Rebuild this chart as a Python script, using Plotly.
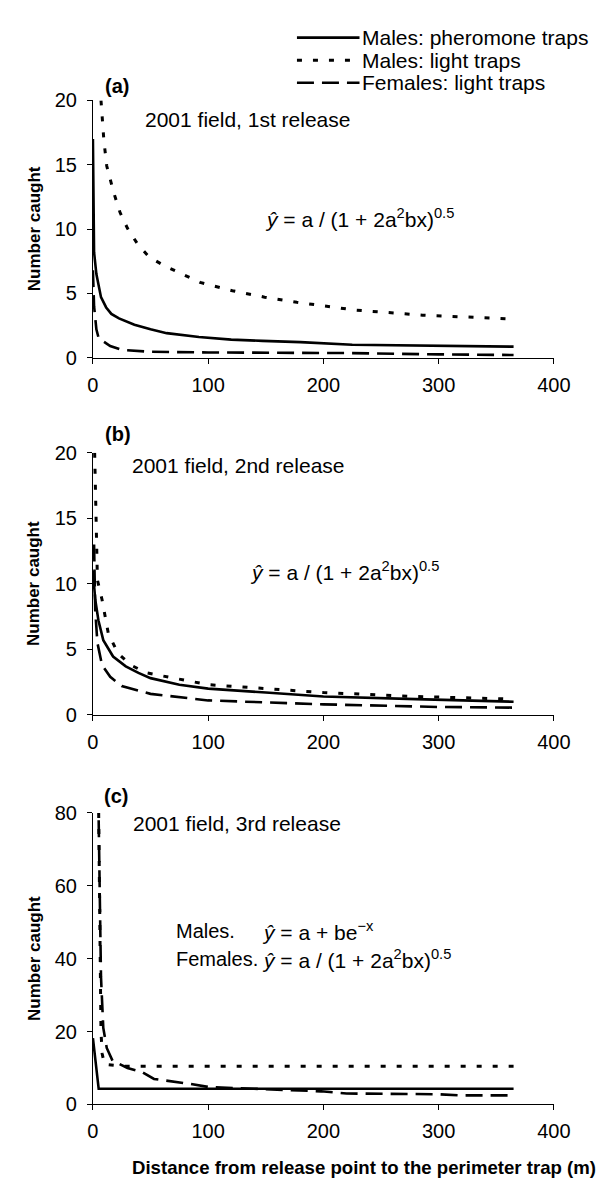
import plotly.graph_objects as go

W, H = 612, 1184

# ---------------- data ----------------
# Panel (a) 2001 field, 1st release
pher_a_x = [0, 0.3, 1, 3, 7, 11.5, 16, 22.6, 36, 50, 64, 92, 120, 147, 180, 225, 300, 365]
pher_a_y = [17.0, 15.0, 8.2, 6.5, 4.7, 3.9, 3.4, 3.05, 2.55, 2.2, 1.9, 1.6, 1.4, 1.3, 1.2, 1.0, 0.9, 0.85]
light_a_x = [7, 9.5, 12, 18, 23.5, 30, 39, 49, 63, 79, 93, 121, 149, 177, 205, 227, 286, 365]
light_a_y = [20, 16.9, 14.9, 12.85, 11.3, 10.05, 8.8, 7.8, 7.1, 6.4, 5.85, 5.2, 4.7, 4.3, 3.95, 3.7, 3.3, 3.0]
fem_a_x = [0, 1, 3, 5, 10, 15, 25, 50, 100, 225, 300, 365]
fem_a_y = [6.8, 4.0, 2.2, 1.5, 1.2, 0.9, 0.6, 0.45, 0.4, 0.35, 0.25, 0.2]

# Panel (b) 2001 field, 2nd release
pher_b_x = [0, 2, 4.8, 9, 17.5, 28.5, 39.5, 50, 75, 100, 150, 200, 280, 365]
pher_b_y = [11, 8.8, 7.2, 5.7, 4.45, 3.7, 3.2, 2.8, 2.3, 2.0, 1.7, 1.4, 1.2, 1.0]
light_b_x = [1.5, 2.5, 3.9, 7.9, 13.4, 21.7, 32.8, 46.6, 75, 100, 150, 200, 280, 365]
light_b_y = [20, 15, 10.3, 8.8, 6.2, 4.7, 3.8, 3.2, 2.7, 2.3, 2.0, 1.7, 1.4, 1.2]
fem_b_x = [1, 2, 3.9, 7.9, 15, 25, 50, 100, 200, 300, 365]
fem_b_y = [13, 8, 5.5, 3.8, 2.9, 2.2, 1.6, 1.1, 0.8, 0.6, 0.55]

# Panel (c) 2001 field, 3rd release
pher_c_x = [0, 5, 10, 50, 100, 200, 300, 365]
pher_c_y = [18.2, 4.3, 4.3, 4.3, 4.3, 4.3, 4.3, 4.3]
light_c_x = [5, 6, 7, 8, 10, 25, 50, 100, 200, 300, 365]
light_c_y = [80, 38, 20, 14, 11, 10.5, 10.5, 10.5, 10.5, 10.5, 10.5]
fem_c_x = [5, 7, 9, 12, 17, 30, 43, 53, 85, 101, 140, 182, 198, 220, 300, 317, 365]
fem_c_y = [78, 35, 21, 15.5, 12, 10, 8.8, 7, 5.6, 4.75, 4.3, 3.9, 3.6, 3.0, 2.8, 2.5, 2.5]

series_names = ["Males: pheromone traps", "Males: light traps", "Females: light traps"]
panel_labels = ["(a)", "(b)", "(c)"]
panel_titles = ["2001 field, 1st release", "2001 field, 2nd release", "2001 field, 3rd release"]
y_ranges = [[0, 20], [0, 20], [0, 80]]
y_dticks = [5, 5, 20]
x_ticks = [0, 100, 200, 300, 400]

# ---------------- layout helpers ----------------
def px(x):
    return x / W

def py(y):
    return 1 - y / H

FONT = "Liberation Sans, Arial, Helvetica, sans-serif"
styles = [
    dict(color="black", width=2.6, dash="solid"),
    dict(color="black", width=3.0, dash="5px,11px"),
    dict(color="black", width=2.6, dash="17px,8px"),
]

panels = [
    (pher_a_x, pher_a_y, light_a_x, light_a_y, fem_a_x, fem_a_y),
    (pher_b_x, pher_b_y, light_b_x, light_b_y, fem_b_x, fem_b_y),
    (pher_c_x, pher_c_y, light_c_x, light_c_y, fem_c_x, fem_c_y),
]
# pixel extents of each plot area (top, bottom)
panel_px = [(83, 345), (442, 709), (809, 1106)]
x_left, x_right = 82, 561

fig = go.Figure()
for i, (p_x, p_y, l_x, l_y, f_x, f_y) in enumerate(panels):
    xa = "x" if i == 0 else f"x{i+1}"
    ya = "y" if i == 0 else f"y{i+1}"
    for (xs, ys), st, nm in zip([(f_x, f_y), (l_x, l_y), (p_x, p_y)],
                                 [styles[2], styles[1], styles[0]],
                                 [series_names[2], series_names[1], series_names[0]]):
        fig.add_trace(go.Scatter(x=xs, y=ys, mode="lines", line=st, name=nm,
                                 xaxis=xa, yaxis=ya, showlegend=False))

axis_common = dict(showline=True, linecolor="black", linewidth=1, ticks="outside",
                   ticklen=5, tickcolor="black", tickwidth=1, showgrid=False,
                   zeroline=False, tickfont=dict(family=FONT, size=20, color="black"))

layout = dict(width=W, height=H, margin=dict(l=0, r=0, t=0, b=0),
              paper_bgcolor="white", plot_bgcolor="white", showlegend=False,
              font=dict(family=FONT, color="black"))
for i in range(3):
    sx = "" if i == 0 else str(i + 1)
    layout["xaxis" + sx] = dict(domain=[px(x_left), px(x_right)], range=[0, 400],
                                tickvals=x_ticks, anchor="y" + sx,
                                ticklabelstandoff=4, **axis_common)
    top, bot = panel_px[i]
    layout["yaxis" + sx] = dict(domain=[py(bot), py(top)], range=y_ranges[i],
                                dtick=y_dticks[i], anchor="x" + sx,
                                ticklabelstandoff=6, **axis_common)
fig.update_layout(**layout)

ann = []
def text(x, y, t, size=20, bold=False, xanchor="left", angle=0):
    if bold:
        t = f"<b>{t}</b>"
    ann.append(dict(x=px(x), y=py(y), xref="paper", yref="paper", text=t, showarrow=False,
                    xanchor=xanchor, yanchor="middle", textangle=angle,
                    font=dict(family=FONT, size=size, color="black")))

eq1 = "<i>ŷ</i> = a / (1 + 2a<sup>2</sup>bx)<sup>0.5</sup>"
eq2 = "<i>ŷ</i> = a + be<sup>−x</sup>"

# panel labels and titles
label_pos = [(92, 68), (92, 423), (91, 792)]
title_pos = [(134, 102), (121, 455), (122, 820)]
for i in range(3):
    text(*label_pos[i], panel_labels[i], size=20, bold=True)
    text(*title_pos[i], panel_titles[i], size=21)
    top, bot = panel_px[i]
    text(21, (top + bot) / 2, "Number caught", size=17, bold=True, xanchor="center", angle=-90)

text(259, 203, eq1, size=21)
text(243, 562, eq1, size=21)
text(166, 929, "Males.", size=20)
text(256, 929, eq2, size=21)
text(166, 958, "Females.", size=20)
text(256, 958, eq1, size=21)

text(364, 1170, "Distance from release point to the perimeter trap (m)", size=18.6, bold=True, xanchor="center")

# legend (drawn manually to reproduce long line samples)
legend_rows = [19, 42, 65]
shapes = []
for st, nm, yy in zip(styles, series_names, legend_rows):
    shapes.append(dict(type="line", xref="paper", yref="paper",
                       x0=px(294), x1=px(359), y0=py(yy), y1=py(yy),
                       line=dict(color="black", width=st["width"], dash=st["dash"])))
    text(360, yy, nm, size=21)

fig.update_layout(annotations=ann, shapes=shapes)
fig.write_html("out.html")
